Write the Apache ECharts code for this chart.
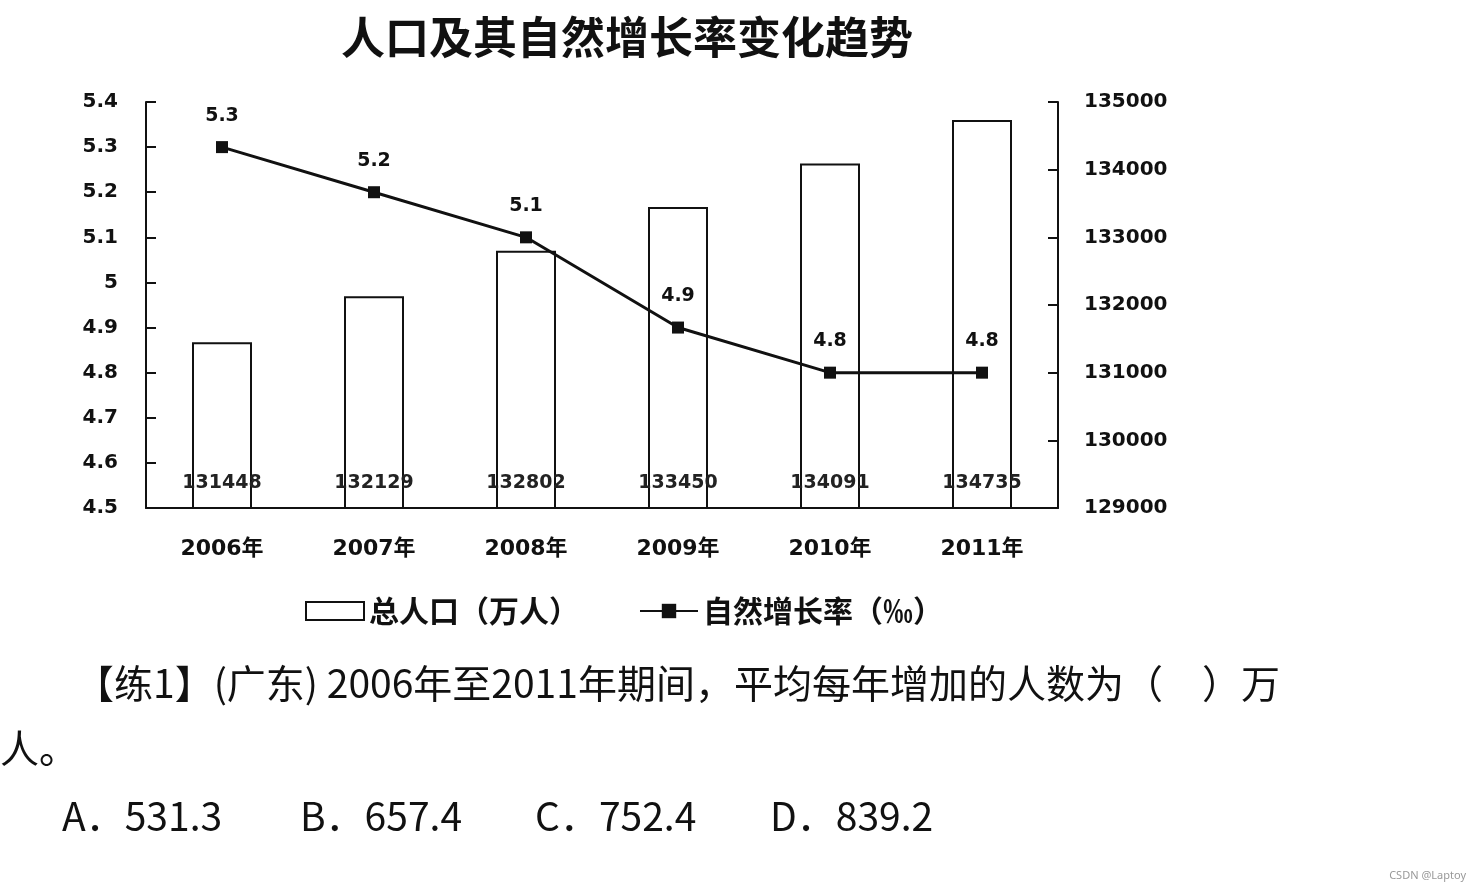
<!DOCTYPE html>
<html>
<head>
<meta charset="utf-8">
<script src="https://cdn.jsdelivr.net/npm/echarts@6/dist/echarts.min.js"></script>
<style>
  html, body { margin: 0; padding: 0; background: #fff; }
  #main { width: 1482px; height: 889px; }
</style>
</head>
<body>
<div id="main"></div>
<script>
// 数据
var years = ['2006年', '2007年', '2008年', '2009年', '2010年', '2011年'];
var population = [131448, 132129, 132802, 133450, 134091, 134735]; // 总人口（万人）
var growthRate = [5.3, 5.2, 5.1, 4.9, 4.8, 4.8];                   // 自然增长率（‰）

var cjk = '"Noto Sans CJK SC", sans-serif';
var num = '"DejaVu Sans", "Noto Sans CJK SC", sans-serif';

var chart = echarts.init(document.getElementById('main'));

var option = {
  backgroundColor: '#fff',
  animation: false,
  title: {
    text: '人口及其自然增长率变化趋势',
    left: 622,
    top: 10,
    textAlign: 'center',
    textStyle: { fontFamily: cjk, fontSize: 44, fontWeight: 'bold', color: '#111' }
  },
  grid: { left: 146, right: 424, top: 102, bottom: 381 },
  legend: {
    left: 300,
    top: 591,
    itemWidth: 58,
    itemHeight: 18,
    itemGap: 60,
    textStyle: { fontFamily: cjk, fontSize: 30, fontWeight: 'bold', color: '#111' },
    data: [
      { name: '总人口（万人）', icon: 'rect' },
      { name: '自然增长率（‰）' }
    ]
  },
  xAxis: {
    type: 'category',
    data: years,
    axisLine: { lineStyle: { color: '#111', width: 2 } },
    axisTick: { inside: true, length: 8, lineStyle: { color: '#111', width: 2 } },
    axisLabel: { fontFamily: num, fontSize: 22, fontWeight: 'bold', color: '#111', margin: 30 }
  },
  yAxis: [
    {
      type: 'value',
      min: 4.5,
      max: 5.4,
      interval: 0.1,
      splitLine: { show: false },
      axisLine: { show: true, lineStyle: { color: '#111', width: 2 } },
      axisTick: { show: true, inside: true, length: 10, lineStyle: { color: '#111', width: 2 } },
      axisLabel: {
        fontFamily: num, fontSize: 20, fontWeight: 'bold', color: '#111', margin: 28,
        formatter: function (v) { return +v.toFixed(1) + ''; }
      }
    },
    {
      type: 'value',
      min: 129000,
      max: 135000,
      interval: 1000,
      splitLine: { show: false },
      axisLine: { show: true, lineStyle: { color: '#111', width: 2 } },
      axisTick: { show: true, inside: true, length: 10, lineStyle: { color: '#111', width: 2 } },
      axisLabel: {
        fontFamily: num, fontSize: 20, fontWeight: 'bold', color: '#111', margin: 26,
        formatter: function (v) { return String(v); }
      }
    }
  ],
  series: [
    {
      name: '总人口（万人）',
      type: 'bar',
      yAxisIndex: 1,
      data: population,
      barWidth: 60,
      itemStyle: { color: '#fff', borderColor: '#111', borderWidth: 2 },
      label: {
        show: true,
        position: 'insideBottom',
        distance: 16,
        fontFamily: num,
        fontSize: 19,
        fontWeight: 'bold',
        color: '#222'
      },
      z: 1
    },
    {
      name: '自然增长率（‰）',
      type: 'line',
      yAxisIndex: 0,
      data: growthRate,
      symbol: 'rect',
      symbolSize: 12,
      itemStyle: { color: '#111' },
      lineStyle: { color: '#111', width: 3 },
      label: {
        show: true,
        position: 'top',
        distance: 16,
        fontFamily: num,
        fontSize: 19,
        fontWeight: 'bold',
        color: '#111'
      },
      z: 3
    }
  ],
  graphic: [
    {
      type: 'text', left: 75, top: 664,
      style: { text: '【练1】(广东) 2006年至2011年期间，平均每年增加的人数为（　）万', font: '39px "Noto Sans CJK SC"', fill: '#111' }
    },
    {
      type: 'text', left: 0, top: 729,
      style: { text: '人。', font: '39px "Noto Sans CJK SC"', fill: '#111' }
    },
    { type: 'text', left: 62, top: 797, style: { text: 'A．531.3', font: '39px "Noto Sans CJK SC"', fill: '#111' } },
    { type: 'text', left: 300, top: 797, style: { text: 'B．657.4', font: '39px "Noto Sans CJK SC"', fill: '#111' } },
    { type: 'text', left: 535, top: 797, style: { text: 'C．752.4', font: '39px "Noto Sans CJK SC"', fill: '#111' } },
    { type: 'text', left: 770, top: 797, style: { text: 'D．839.2', font: '39px "Noto Sans CJK SC"', fill: '#111' } },
    { type: 'text', right: 16, bottom: 8, style: { text: 'CSDN @Laptoy', font: '11px "Noto Sans"', fill: '#999' } }
  ]
};

chart.setOption(option);
</script>
</body>
</html>
